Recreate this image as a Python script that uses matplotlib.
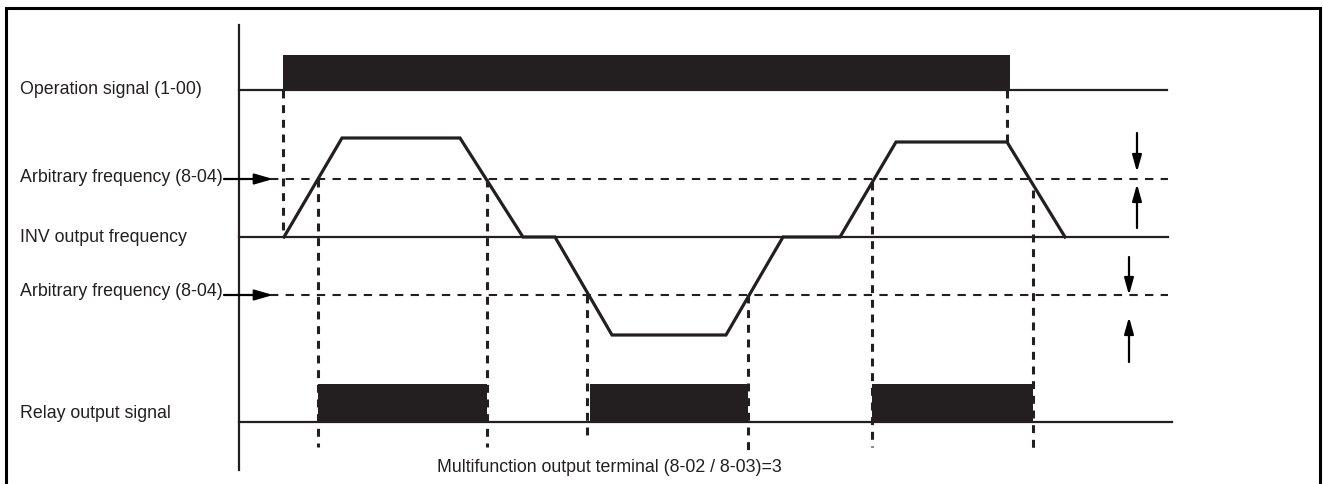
import matplotlib
matplotlib.use("Agg")
import matplotlib.pyplot as plt

plt.rcParams['font.family'] = ['Liberation Sans', 'DejaVu Sans']

# levels (diagram units, y grows downwards)
op_base, op_top = 90, 55
f_hi, f_zero, f_lo = 179, 237, 295
relay_base, relay_top = 422, 384

# operation signal on/off
op_on, op_off = 283, 1010

# INV output frequency waveform
freq_t = [284, 342, 460, 523, 555, 612, 726, 783, 840, 896, 1007, 1065]
freq_y = [237, 138, 138, 237, 237, 335, 335, 237, 237, 142, 142, 237]

# relay output pulses
relay_on = [318, 590, 872]
relay_off = [487, 748, 1033]

# dashed guide lines (x, top, bottom)
guide_x = [283, 318, 487, 587, 748, 872, 1033, 1007]
guide_top = [90, 179, 179, 295, 295, 182, 190, 90]
guide_bot = [237, 447, 447, 435, 452, 447, 450, 142]

labels = ["Operation signal (1-00)", "Arbitrary frequency (8-04)", "INV output frequency",
          "Arbitrary frequency (8-04)", "Relay output signal"]
label_y = [89, 178, 238, 292, 413]
footer = "Multifunction output terminal (8-02 / 8-03)=3"

fig = plt.figure(figsize=(13.23, 4.84), dpi=100)
ax = fig.add_axes([0, 0, 1, 1])
ax.set_xlim(0, 1323)
ax.set_ylim(484, 0)
ax.axis('off')

k = '#231f20'

# frame (bottom edge falls outside the picture)
ax.plot([6, 6, 1320, 1320], [490, 8, 8, 490], color='black', lw=2.2, solid_joinstyle='miter')

# time axis
ax.plot([239, 239], [25, 470], color=k, lw=1.6)

# operation signal
ax.plot([239, 1167], [op_base, op_base], color=k, lw=1.6)
ax.fill_between([op_on, op_off], op_top, op_base, color=k, lw=0)

# frequency lines
ax.plot([239, 1168], [f_zero, f_zero], color=k, lw=1.6)
for y in [f_hi, f_lo]:
    ax.plot([270, 1168], [y, y], color=k, lw=1.5, ls=(0, (4, 3.5)))
ax.plot(freq_t, freq_y, color=k, lw=2.3, solid_joinstyle='miter')

# relay output
ax.plot([239, 1172], [relay_base, relay_base], color=k, lw=1.6)
for a, b in zip(relay_on, relay_off):
    ax.fill_between([a, b], relay_top, relay_base, color=k, lw=0)

# dashed guides
for x, t, b in zip(guide_x, guide_top, guide_bot):
    ax.plot([x, x], [t, b], color=k, lw=2.2, ls=(0, (2.6, 2.2)))

# labels
for s, y in zip(labels, label_y):
    ax.text(20, y, s, fontsize=12.8, va='center', ha='left', color=k)
ax.text(437, 467, footer, fontsize=12.8, va='center', ha='left', color=k)

# arrows from the labels
for y in [f_hi, f_lo]:
    ax.annotate('', xy=(273, y), xytext=(224, y),
                arrowprops=dict(arrowstyle='-|>,head_length=1.1,head_width=0.32', color='black', lw=1.6,
                                shrinkA=0, shrinkB=0))

# hysteresis arrows
for x, y0, y1 in [(1137, 133, 172), (1137, 228, 184), (1129, 257, 295), (1129, 362, 317)]:
    ax.annotate('', xy=(x, y1), xytext=(x, y0),
                arrowprops=dict(arrowstyle='-|>,head_length=1.0,head_width=0.28', color='black', lw=1.6,
                                shrinkA=0, shrinkB=0))

fig.savefig('out.png', dpi=100)
